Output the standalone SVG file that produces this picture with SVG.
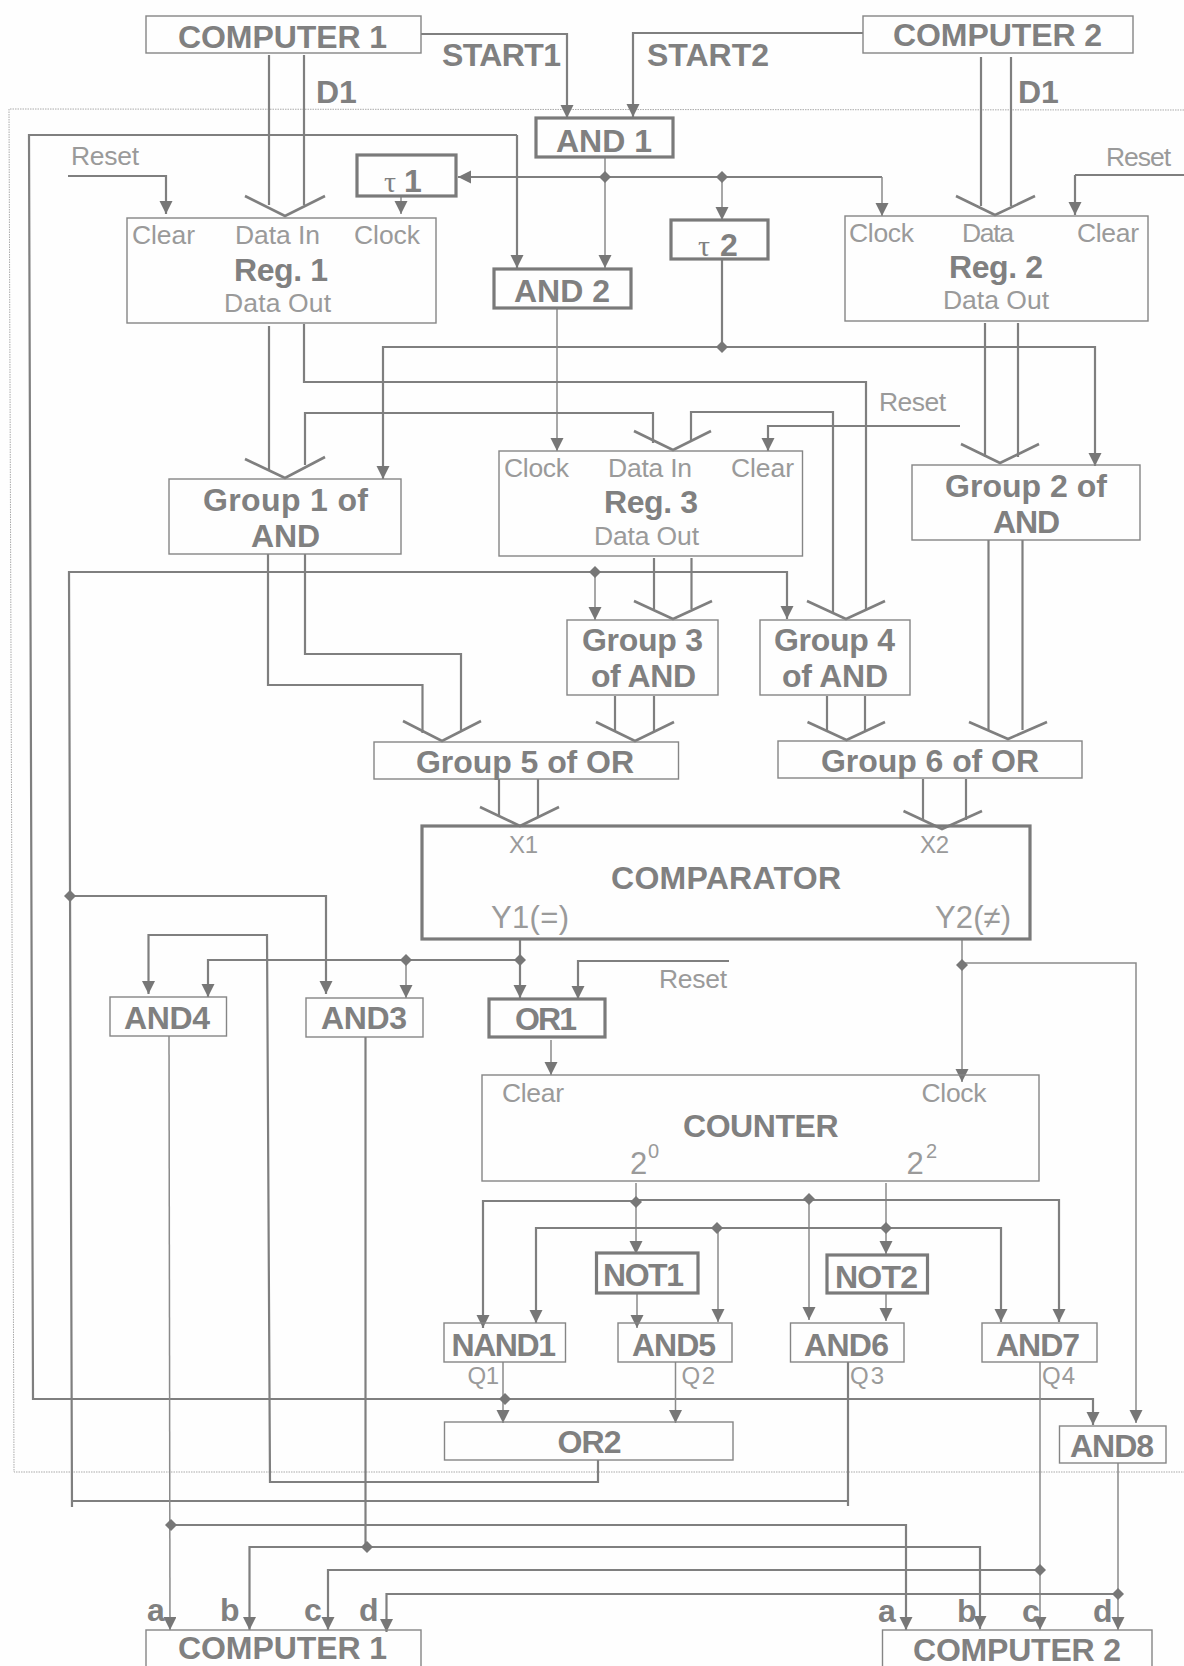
<svg xmlns="http://www.w3.org/2000/svg" xmlns:xlink="http://www.w3.org/1999/xlink" width="1184" height="1666" viewBox="0 0 1184 1666">
<style>
text{font-family:"Liberation Sans",Arial,sans-serif;}
.b{font-size:32px;font-weight:bold;fill:#808080;}
.r{font-size:26.500px;fill:#9a9a9a;}
.r2{font-size:31px;fill:#9a9a9a;}
.x{font-size:24px;fill:#9a9a9a;}
.s{font-size:20px;fill:#9a9a9a;}
.t{font-family:"Liberation Serif",serif;font-size:30px;fill:#808080;}
.box{fill:none;stroke:#858585;stroke-width:1.4;}
.thick{fill:none;stroke:#7a7a7a;stroke-width:3.2;}
.l{fill:none;stroke:#7f7f7f;stroke-width:2.2;}
.n{fill:none;stroke:#8a8a8a;stroke-width:1.5;}
.a{marker-end:url(#arrow);}
.v{fill:none;stroke:#7f7f7f;stroke-width:2.6;}
.dot{fill:none;stroke:#aaaaaa;stroke-width:1;stroke-dasharray:1.5 1;}
</style>
<defs>
<marker id="arrow" markerUnits="userSpaceOnUse" markerWidth="14" markerHeight="14" refX="13" refY="6.5" orient="auto"><polygon points="0,0 13,6.5 0,13" fill="#777"/></marker>
<polygon id="j" points="-6,0 0,-6 6,0 0,6" fill="#777"/>
</defs>
<rect x="0" y="0" width="1184" height="1666" fill="#fefefe"/>
<g id="boundary"><path class="dot" d="M1184,110 L9,109 L14,1472 L1184,1472"/></g>
<g id="connectors">
<path class="l a" d="M421,34 H567 V118"/>
<path class="l a" d="M863,33 H633 V117"/>
<path class="l" d="M269,55 V205 M304,55 V205"/>
<path class="l" d="M981,57 V206 M1011,57 V206"/>
<path class="v" d="M245,196 L285,216 L325,196"/>
<path class="v" d="M956,196 L995,215 L1035,196"/>
<path class="l a" d="M517,135 V268"/>
<path class="l a" d="M517,135 H29 L33,1399 H1093 V1425"/>
<path class="l a" d="M68,176 H166 V214"/>
<path class="n a" d="M401,196 V214"/>
<path class="l a" d="M882,177 H458"/>
<path class="n a" d="M882,177 V216"/>
<path class="n a" d="M605,157 V268"/>
<path class="n a" d="M722,177 V220"/>
<path class="l" d="M722,259 V347"/>
<path class="l a" d="M722,347 H383 V479"/>
<path class="l a" d="M722,347 H1095 V466"/>
<path class="n a" d="M557,308 V451"/>
<path class="l" d="M1075,175 H1184"/>
<path class="l a" d="M1075,175 V215"/>
<path class="l" d="M269,326 V470"/>
<path class="l" d="M304,324 V382 H866 V610"/>
<path class="l" d="M305,465 V413 H653 V443"/>
<path class="l" d="M691,440 V412 H833 V612"/>
<path class="v" d="M245,459 L285,478 L325,457"/>
<path class="v" d="M634,431 L673,450 L711,431"/>
<path class="v" d="M807,601 L846,619 L885,601"/>
<path class="l" d="M985,323 V457 M1018,323 V457"/>
<path class="v" d="M961,444 L1000,463 L1039,444"/>
<path class="l a" d="M960,426 H768 V451"/>
<path class="l" d="M268,554 V685 H422.500 V733"/>
<path class="l" d="M305,554 V654 H461 V730"/>
<path class="v" d="M403,721 L442,741 L481,721"/>
<path class="l a" d="M72,1507 L69,572 H787 V619"/>
<path class="n a" d="M595,572 V620"/>
<path class="l" d="M654,558 V609 M691.500,558 V609"/>
<path class="v" d="M634,601 L673,619 L712,601"/>
<path class="l" d="M615,696 V731 M654,696 V731"/>
<path class="v" d="M596,722 L635,741 L674,722"/>
<path class="l" d="M827,696 V731 M865,696 V731"/>
<path class="v" d="M807.500,722 L846.500,740 L885,722"/>
<path class="l" d="M988.500,540 V730 M1022.500,540 V730"/>
<path class="v" d="M969,722 L1008,739 L1047,722"/>
<path class="l" d="M499,779 V817 M538,779 V817"/>
<path class="v" d="M480,807 L520,826 L559,807"/>
<path class="l" d="M923,779 V820 M966,779 V820"/>
<path class="v" d="M903.500,811 L942,829 L982,811"/>
<path class="l a" d="M520,939 V998"/>
<path class="l a" d="M520,960 H208 V997"/>
<path class="n a" d="M406,960 V998"/>
<path class="l a" d="M729,961 H578 V999"/>
<path class="l a" d="M70,896 H326 V994"/>
<path class="l a" d="M598,1460 V1482 H270 L267,935 H148.500 V994"/>
<path class="n a" d="M551,1040 V1075"/>
<path class="n a" d="M962,939 V1082"/>
<path class="n a" d="M962,963 H1136 V1423"/>
<path class="n a" d="M636,1183 V1254"/>
<path class="n a" d="M886,1183 V1254"/>
<path class="l a" d="M636,1201 H483 V1328"/>
<path class="l a" d="M636,1200 H1059 V1322"/>
<path class="n a" d="M809,1200 V1320"/>
<path class="l a" d="M717,1228 H536 V1323"/>
<path class="l a" d="M717,1228 H1001 V1322"/>
<path class="n a" d="M718,1228 V1322"/>
<path class="n a" d="M637,1293 V1328"/>
<path class="n a" d="M886,1293 V1321"/>
<path class="n a" d="M503,1362 V1423"/>
<path class="n a" d="M675.500,1362 V1423"/>
<path class="l" d="M848,1362 V1506 M72,1501 H848"/>
<path class="n a" d="M169,1036 L170,1630"/>
<path class="l a" d="M170,1525 H906 V1630"/>
<path class="l" d="M365.500,1037 V1547"/>
<path class="l a" d="M366,1547 H249.500 V1630"/>
<path class="l a" d="M366,1547 H980 V1629"/>
<path class="n a" d="M1040,1362 V1630"/>
<path class="l a" d="M1040,1570 H328 V1630"/>
<path class="n a" d="M1118,1463 V1630"/>
<path class="l a" d="M1118,1594 H386.500 V1632"/>
<use xlink:href="#j" href="#j" x="605" y="177"/>
<use xlink:href="#j" href="#j" x="722" y="177"/>
<use xlink:href="#j" href="#j" x="722" y="347"/>
<use xlink:href="#j" href="#j" x="595" y="572"/>
<use xlink:href="#j" href="#j" x="70" y="896"/>
<use xlink:href="#j" href="#j" x="406" y="960"/>
<use xlink:href="#j" href="#j" x="520" y="960"/>
<use xlink:href="#j" href="#j" x="962" y="965"/>
<use xlink:href="#j" href="#j" x="636" y="1202"/>
<use xlink:href="#j" href="#j" x="809" y="1199"/>
<use xlink:href="#j" href="#j" x="717" y="1228"/>
<use xlink:href="#j" href="#j" x="886" y="1228"/>
<use xlink:href="#j" href="#j" x="505" y="1399"/>
<use xlink:href="#j" href="#j" x="171" y="1525"/>
<use xlink:href="#j" href="#j" x="367" y="1547"/>
<use xlink:href="#j" href="#j" x="1040" y="1570"/>
<use xlink:href="#j" href="#j" x="1118" y="1594"/>
</g>
<g id="computer1-top"><rect class="box" x="146" y="16" width="275" height="37"/><text class="b" x="178" y="48" textLength="209">COMPUTER 1</text></g>
<g id="computer2-top"><rect class="box" x="863" y="16" width="270" height="37"/><text class="b" x="893" y="46" textLength="209">COMPUTER 2</text></g>
<g id="labels">
<text class="b" x="442" y="66" textLength="119">START1</text>
<text class="b" x="647" y="66" textLength="122">START2</text>
<text class="b" x="316" y="103">D1</text>
<text class="b" x="1018" y="103">D1</text>
<text class="r" x="71" y="165" textLength="68">Reset</text>
<text class="r" x="1106" y="166" textLength="65">Reset</text>
<text class="r" x="879" y="411" textLength="67">Reset</text>
<text class="r" x="659" y="988" textLength="68">Reset</text>
</g>
<g id="and1"><rect class="thick" x="536" y="118" width="137" height="39"/><text class="b" x="604" y="152" text-anchor="middle">AND 1</text></g>
<g id="and2"><rect class="thick" x="494" y="269" width="137" height="39"/><text class="b" x="562" y="302" text-anchor="middle">AND 2</text></g>
<g id="tau1"><rect class="thick" x="357" y="155" width="99" height="41"/><text x="384" y="192"><tspan class="t">τ</tspan><tspan class="b" dx="8">1</tspan></text></g>
<g id="tau2"><rect class="thick" x="671" y="220" width="97" height="39"/><text x="698" y="256"><tspan class="t">τ</tspan><tspan class="b" dx="10">2</tspan></text></g>
<g id="reg1"><rect class="box" x="127" y="218" width="309" height="105"/>
<text class="r" x="132" y="244" textLength="63">Clear</text><text class="r" x="235" y="244" textLength="85">Data In</text><text class="r" x="354" y="244" textLength="66">Clock</text>
<text class="b" x="234" y="281" textLength="94">Reg. 1</text><text class="r" x="224" y="312" textLength="107">Data Out</text></g>
<g id="reg2"><rect class="box" x="845" y="216" width="303" height="105"/>
<text class="r" x="849" y="242" textLength="65">Clock</text><text class="r" x="962" y="242" textLength="52">Data</text><text class="r" x="1077" y="242" textLength="62">Clear</text>
<text class="b" x="949" y="278" textLength="94">Reg. 2</text><text class="r" x="943" y="309" textLength="106">Data Out</text></g>
<g id="reg3"><rect class="box" x="499" y="451" width="303.500" height="105"/>
<text class="r" x="504" y="477" textLength="65">Clock</text><text class="r" x="608" y="477" textLength="84">Data In</text><text class="r" x="731" y="477" textLength="63">Clear</text>
<text class="b" x="604" y="513" textLength="94">Reg. 3</text><text class="r" x="594" y="545" textLength="105">Data Out</text></g>
<g id="group1"><rect class="box" x="169" y="479" width="232" height="75"/><text class="b" x="203" y="511" textLength="165">Group 1 of</text><text class="b" x="251" y="547" textLength="69">AND</text></g>
<g id="group2"><rect class="box" x="912" y="465" width="228" height="75"/><text class="b" x="945" y="497" textLength="162">Group 2 of</text><text class="b" x="993" y="533" textLength="67">AND</text></g>
<g id="group3"><rect class="box" x="567" y="620" width="151" height="75"/><text class="b" x="582" y="651" textLength="121">Group 3</text><text class="b" x="591" y="687" textLength="105">of AND</text></g>
<g id="group4"><rect class="box" x="760" y="620" width="150" height="75"/><text class="b" x="774" y="651" textLength="121">Group 4</text><text class="b" x="782" y="687" textLength="106">of AND</text></g>
<g id="group5"><rect class="box" x="374" y="742" width="304.500" height="37"/><text class="b" x="416" y="773" textLength="218">Group 5 of OR</text></g>
<g id="group6"><rect class="box" x="778" y="741" width="304" height="37"/><text class="b" x="821" y="772" textLength="218">Group 6 of OR</text></g>
<g id="comparator"><rect class="thick" x="422" y="826" width="608" height="113"/>
<text class="x" x="509" y="853" textLength="29">X1</text><text class="x" x="920" y="853" textLength="29">X2</text>
<text class="b" x="611" y="889" textLength="230">COMPARATOR</text>
<text class="r2" x="491" y="928" textLength="78">Y1(=)</text><text class="r2" x="935" y="928" textLength="76">Y2(≠)</text></g>
<g id="and4"><rect class="box" x="110" y="997" width="116.500" height="39"/><text class="b" x="124" y="1029" textLength="86">AND4</text></g>
<g id="and3"><rect class="box" x="306" y="998" width="117" height="39"/><text class="b" x="321" y="1029" textLength="86">AND3</text></g>
<g id="or1"><rect class="thick" x="489" y="999" width="116" height="38"/><text class="b" x="515" y="1030" textLength="62">OR1</text></g>
<g id="counter"><rect class="box" x="482" y="1075" width="557" height="106"/>
<text class="r" x="502" y="1102" textLength="62">Clear</text><text class="r" x="921.500" y="1102" textLength="65">Clock</text>
<text class="b" x="683" y="1137" textLength="155.500">COUNTER</text>
<text class="r2" x="630" y="1174">2</text><text class="s" x="648" y="1158">0</text>
<text class="r2" x="906.500" y="1174">2</text><text class="s" x="926" y="1158">2</text></g>
<g id="not1"><rect class="thick" x="596.500" y="1253" width="101.500" height="40"/><text class="b" x="603" y="1286" textLength="81">NOT1</text></g>
<g id="not2"><rect class="thick" x="827" y="1255" width="100.500" height="38"/><text class="b" x="835" y="1288" textLength="83">NOT2</text></g>
<g id="nand1"><rect class="box" x="444" y="1323" width="121.500" height="39"/><text class="b" x="451.500" y="1356" textLength="104.500">NAND1</text><text class="x" x="467.500" y="1384" textLength="31.500">Q1</text></g>
<g id="and5"><rect class="box" x="618" y="1323" width="114" height="39"/><text class="b" x="632" y="1356" textLength="84">AND5</text><text class="x" x="681.500" y="1384" textLength="33.500">Q2</text></g>
<g id="and6"><rect class="box" x="790.500" y="1323" width="113.500" height="39"/><text class="b" x="804" y="1356" textLength="85">AND6</text><text class="x" x="850" y="1384" textLength="34">Q3</text></g>
<g id="and7"><rect class="box" x="982" y="1323" width="115" height="39"/><text class="b" x="996" y="1356" textLength="84">AND7</text><text class="x" x="1042" y="1384" textLength="33">Q4</text></g>
<g id="or2"><rect class="box" x="444.500" y="1422" width="288.500" height="38"/><text class="b" x="557.500" y="1453" textLength="64">OR2</text></g>
<g id="and8"><rect class="box" x="1059.500" y="1426" width="106.500" height="37"/><text class="b" x="1070" y="1457" textLength="84">AND8</text></g>
<g id="computer1-bottom"><rect class="box" x="146" y="1630" width="275" height="50"/><text class="b" x="178" y="1659" textLength="209">COMPUTER 1</text>
<text class="b" x="147" y="1621">a</text><text class="b" x="220" y="1621">b</text><text class="b" x="304" y="1621">c</text><text class="b" x="359" y="1621">d</text></g>
<g id="computer2-bottom"><rect class="box" x="882.500" y="1630" width="269.500" height="50"/><text class="b" x="913" y="1661" textLength="208">COMPUTER 2</text>
<text class="b" x="878" y="1622">a</text><text class="b" x="957" y="1622">b</text><text class="b" x="1022" y="1622">c</text><text class="b" x="1093" y="1622">d</text></g>
</svg>
